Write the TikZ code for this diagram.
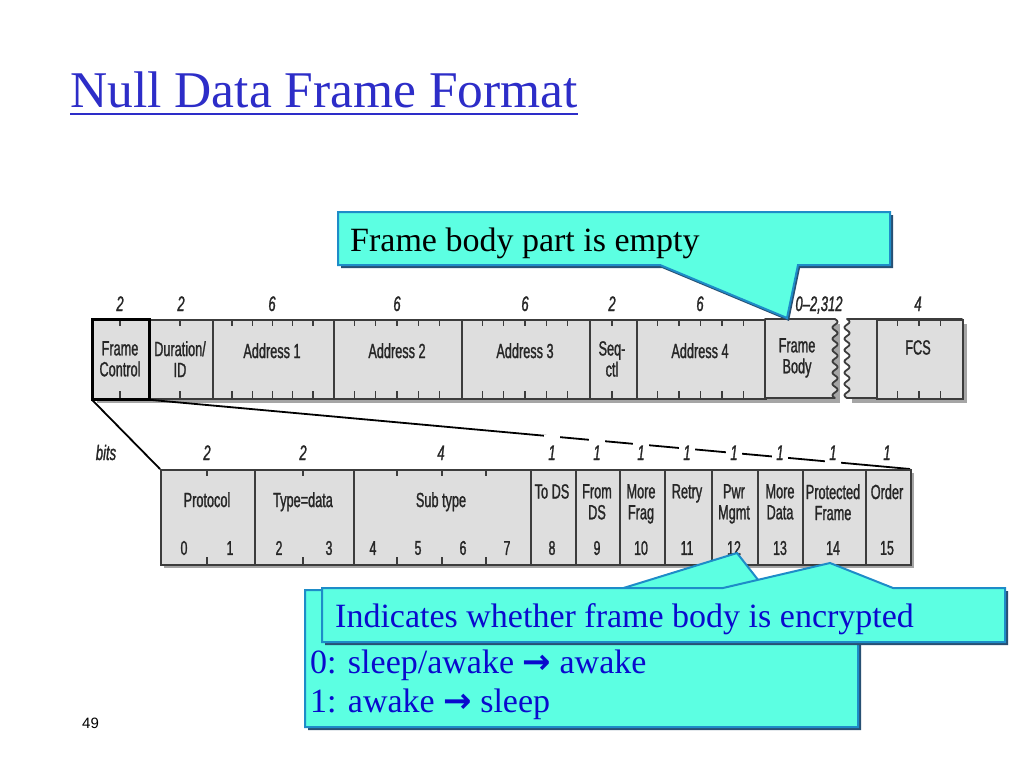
\documentclass[tikz,border=0pt]{standalone}
\usepackage{fontspec}
\setmainfont{Liberation Serif}
\newfontfamily\cond[FakeStretch=0.62, FakeBold=1.2]{Liberation Sans}
\newfontfamily\arialf{Liberation Sans}
\newfontfamily\djv{DejaVu Sans}
\definecolor{titleblue}{RGB}{45,45,200}
\definecolor{cyanfill}{RGB}{92,255,226}
\definecolor{cborder}{RGB}{30,140,200}
\definecolor{cshadow}{RGB}{40,80,115}
\definecolor{cellfill}{RGB}{222,222,222}
\definecolor{celledge}{RGB}{60,60,60}
\definecolor{shadowgray}{RGB}{165,165,165}
\definecolor{textblue}{RGB}{10,10,205}
\newcommand{\rarr}{{\djv\bfseries →}}
\begin{document}
\begin{tikzpicture}[x=1pt,y=-1pt,
  cell/.style={draw=celledge, line width=1.8pt, fill=cellfill, inner sep=0pt, anchor=north west},
  lbl/.style={font=\cond\fontsize{20.5}{21}\selectfont, text=black!85, align=center, inner sep=0pt, anchor=north},
  bitn/.style={font=\cond\fontsize{20}{20}\selectfont, text=black!85, inner sep=0pt},
  num/.style={font=\cond\itshape\fontsize{21}{20}\selectfont, text=black!85, inner sep=0pt, anchor=base},
  gapnum/.style={num, fill=white, minimum width=16pt, text height=25pt, text depth=5pt},
  tick/.style={draw=celledge, line width=1.6pt},
  callout/.style={fill=cyanfill, draw=cborder, line width=2pt, line join=miter},
  cshad/.style={fill=cshadow},
  ctext/.style={inner sep=0pt, anchor=base west, font=\fontsize{34}{38}\selectfont}
]
\useasboundingbox (0,0) rectangle (1024,768);
\fill[white] (0,0) rectangle (1024,768);

% ---------- title ----------
\node[anchor=base west, inner sep=0pt, text=titleblue, font=\fontsize{51.5}{56}\selectfont] (title) at (70,107) {Null Data Frame Format};
\draw[titleblue, line width=2pt] (title.base west |- 0,114) -- (title.base east |- 0,114);

% ---------- page number ----------
\node[anchor=base west, inner sep=0pt, font=\arialf\fontsize{15}{17}\selectfont] (pg) at (82,728) {49};

% ---------- top frame: shadow ----------
\fill[shadowgray] (97,324) rectangle (840,403);
\fill[shadowgray] (852,324) rectangle (967,403);

% ---------- top frame cells ----------
\node[cell, minimum width=56pt, minimum height=79pt] (fc) at (92,319) {};
\node[cell, minimum width=64pt, minimum height=79pt] (dur) at (148,319) {};
\node[cell, minimum width=121pt, minimum height=79pt] (a1) at (212,319) {};
\node[cell, minimum width=128pt, minimum height=79pt] (a2) at (333,319) {};
\node[cell, minimum width=128pt, minimum height=79pt] (a3) at (461,319) {};
\node[cell, minimum width=47pt, minimum height=79pt] (seq) at (589,319) {};
\node[cell, minimum width=129pt, minimum height=79pt] (a4) at (636,319) {};
\draw[draw=celledge, fill=cellfill, line width=1.8pt, line join=round]
  (765,319) -- (835,319) -- plot[domain=0:79, samples=60, variable=\t] ({835+2.6*sin(\t*31.86)}, {\t+319}) -- (765,398) -- cycle;
\draw[draw=celledge, fill=cellfill, line width=1.8pt, line join=round]
  (962,319) -- (847,319) -- plot[domain=0:79, samples=60, variable=\t] ({847+2.6*sin(\t*31.86)}, {\t+319}) -- (962,398) -- cycle;
\node[cell, minimum width=86pt, minimum height=79pt] (fcs) at (876,319) {};
\coordinate (fbody) at (800,319);

% ticks top frame
\foreach \x in {120,180,612} {\draw[tick] (\x,319) -- (\x,326); \draw[tick] (\x,391) -- (\x,398);}
\foreach \s/\w in {212/121,333/128,461/128,636/129} {
  \foreach \k in {1,...,5} {
    \draw[tick] ({\s+\w*\k/6},319) -- ({\s+\w*\k/6},326);
    \draw[tick] ({\s+\w*\k/6},391) -- ({\s+\w*\k/6},398);
  }
}
\foreach \k in {1,2,3} {
  \draw[tick] ({876+86*\k/4},319) -- ({876+86*\k/4},326);
  \draw[tick] ({876+86*\k/4},391) -- ({876+86*\k/4},398);
}
\draw[black, line width=3pt] (fc.north west) rectangle (fc.south east);

% labels top frame
\node[lbl] (lfc) at (120,341) {Frame\\Control};
\node[lbl] (ldur) at (180,341) {Duration/\\ID};
\node[lbl] (la1) at (272,343) {Address 1};
\node[lbl] (la2) at (397,343) {Address 2};
\node[lbl] (la3) at (525,343) {Address 3};
\node[lbl] (lseq) at (612,341) {Seq-\\ctl};
\node[lbl] (la4) at (700,343) {Address 4};
\node[lbl] (lfb) at (797,338) {Frame\\Body};
\node[lbl] (lfcs) at (918,340) {FCS};

% numbers above top frame
\foreach \x/\t in {120/2,181/2,272/6,397/6,525/6,612/2,700/6,918/4} {
  \node[num] at (\x,311) {\t};
}

% ---------- diagonal connectors ----------
\coordinate (bfnw) at (160,469);
\coordinate (bfne) at (910,469);
\draw[black, line width=1.8pt] (fc.south west) -- (bfnw);
\draw[black, line width=1.8pt] (fc.south east) -- (bfne);

% numbers above bottom frame
\node[num] (bits) at (106,460) {bits};
\foreach \x/\t in {207/2,303/2,441/4} {\node[num] at (\x,460) {\t};}
\foreach \x in {552,597,641,687,734,780,833,887} {\node[gapnum] at (\x,460) {1};}

% ---------- bottom frame ----------
\fill[shadowgray] (164,473) rectangle (914,568);
\foreach \l/\r/\n in {160/254/pr,254/353/ty,353/530/st,530/575/tods,575/619/fromds,619/664/mf,664/711/re,711/757/pm,757/802/md,802/865/pf,865/910/ord} {
  \node[cell, minimum width={\r-\l}, minimum height=95pt] (\n) at (\l,469) {};
}
\foreach \x in {207,303,397,442,486} {\draw[tick] (\x,469) -- (\x,476); \draw[tick] (\x,557) -- (\x,564);}

\node[lbl] at (207,492) {Protocol};
\node[lbl] at (303,492) {Type=data};
\node[lbl] at (441,492) {Sub type};
\node[lbl] at (552,484) {To DS};
\node[lbl] at (597,484) {From\\DS};
\node[lbl] at (641,484) {More\\Frag};
\node[lbl] at (687,484) {Retry};
\node[lbl] at (734,484) {Pwr\\Mgmt};
\node[lbl] at (780,484) {More\\Data};
\node[lbl] at (833,484) {Protected\\Frame};
\node[lbl] at (887,484) {Order};
\foreach \x/\t in {184/0,230/1,279/2,329/3,373/4,418/5,463/6,507/7,552/8,597/9,641/10,687/11,734/12,780/13,833/14,887/15} {
  \node[bitn] at (\x,548) {\t};
}

% ---------- callout 1: frame body ----------
\coordinate (tip1) at (787,318);
\fill[cshad] (341,215) -- (893,215) -- (893,268) -- (800,268) -- (789,321) -- (662,268) -- (341,268) -- cycle;
\draw[callout] (338,212) -- (890,212) -- (890,265) -- (798,265) -- (tip1) -- (660,265) -- (338,265) -- cycle;
\node[ctext] (c1) at (350,251) {Frame body part is empty};
\node[num] (fbn) at (819,311) {0–2,312};

% ---------- callout 2: pwr mgmt ----------
\coordinate (tip2) at (737,553);
\fill[cshad] (308,593) -- (620,593) -- (739,556) -- (769,593) -- (861,593) -- (861,730) -- (308,730) -- cycle;
\draw[callout] (305,590) -- (617,590) -- (tip2) -- (766,590) -- (858,590) -- (858,727) -- (305,727) -- cycle;
\node[ctext, text=textblue] (c2a) at (310,673) {0: sleep/awake \rarr{} awake};
\node[ctext, text=textblue] (c2b) at (310,712) {1: awake \rarr{} sleep};

% ---------- callout 3: protected frame ----------
\coordinate (tip3) at (830,563);
\fill[cshad] (325,591) -- (723,591) -- (832,566) -- (895,591) -- (1008,591) -- (1008,645) -- (325,645) -- cycle;
\draw[callout] (322,588) -- (723,588) -- (tip3) -- (893,588) -- (1005,588) -- (1005,642) -- (322,642) -- cycle;
\node[ctext, text=textblue] (c3) at (335,627) {Indicates whether frame body is encrypted};

\end{tikzpicture}
\end{document}
